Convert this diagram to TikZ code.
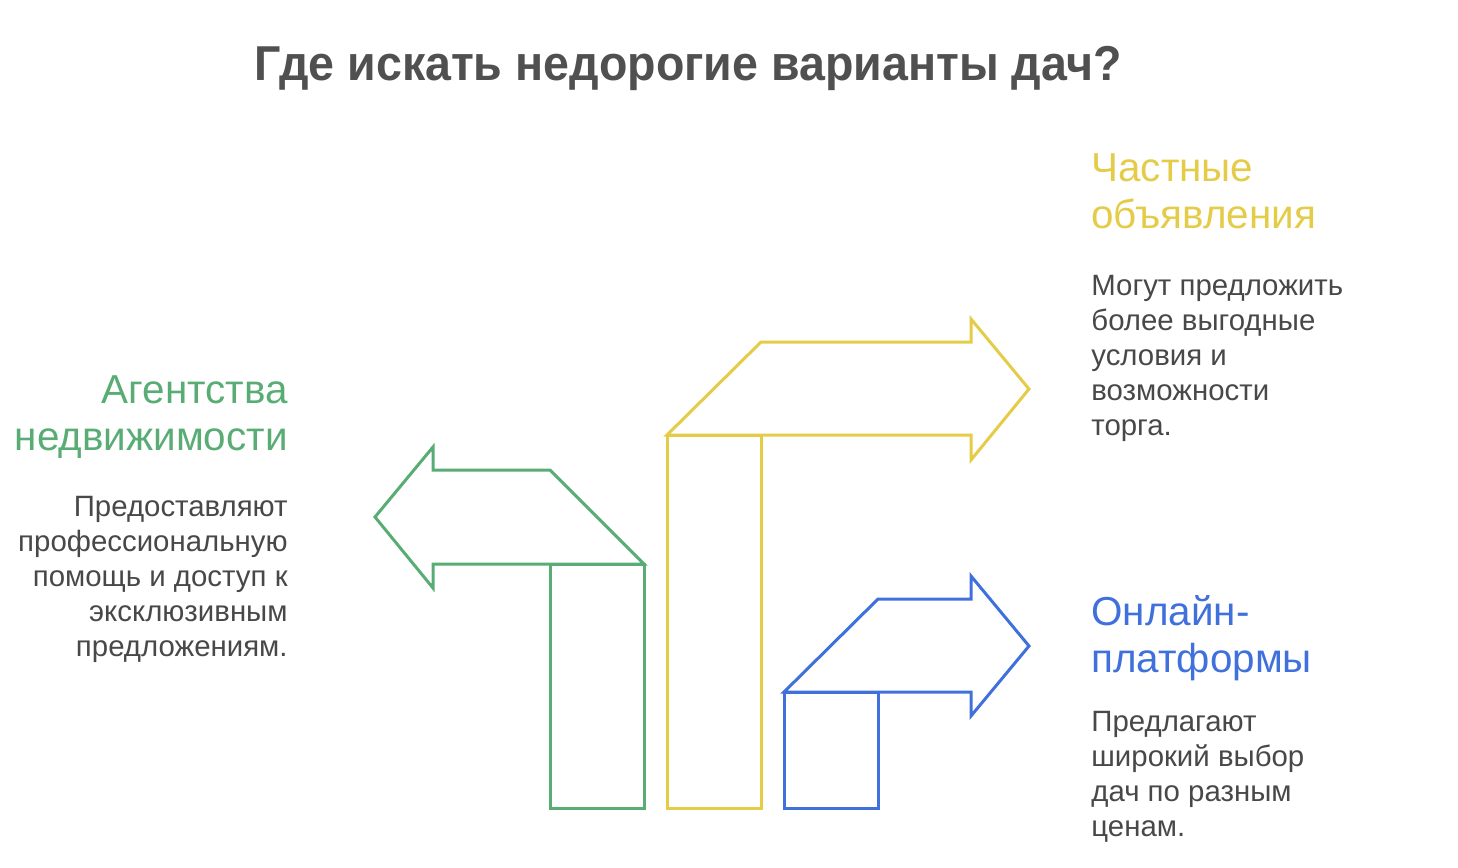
\documentclass[tikz,border=0pt]{standalone}
\usepackage{fontspec}
\setmainfont{Liberation Sans}
\newfontfamily\titlefont[FakeStretch=0.95]{Liberation Sans}
\definecolor{agencygreen}{RGB}{88,172,116}
\definecolor{privateyellow}{RGB}{228,204,72}
\definecolor{onlineblue}{RGB}{64,112,220}
\definecolor{bodygray}{RGB}{72,72,72}
\definecolor{titlegray}{RGB}{80,80,80}
\tikzset{
  outline/.style={line width=1.5pt, line join=miter},
  heading/.style={inner sep=0pt, font=\fontsize{20.2}{23.5}\selectfont},
  bodytext/.style={inner sep=0pt, text=bodygray, font=\fontsize{14.7}{17.5}\selectfont}
}
\begin{document}
\begin{tikzpicture}[x=0.5pt, y=-0.5pt]
    \useasboundingbox (0,0) rectangle (1458,868);

    % Title
    \node[inner sep=0pt, anchor=base, text=titlegray, font=\titlefont\bfseries\fontsize{24.5}{28}\selectfont] (title) at (688,80) {Где искать недорогие варианты дач?};

    % Fleche verte (vers la gauche)
    \coordinate (G1) at (433,470);
    \coordinate (G2) at (550,470);
    \coordinate (G3) at (644,564);
    \coordinate (G4) at (433,564);
    \coordinate (G5) at (433,588);
    \coordinate (G6) at (375,517);
    \coordinate (G7) at (433,447);
    \draw[outline, agencygreen] (G1) -- (G2) -- (G3) -- (G4) -- (G5) -- (G6) -- (G7) -- cycle;
    \draw[outline, agencygreen] (G2 |- G3) rectangle (644,808);

    % Fleche jaune (vers la droite)
    \coordinate (Y1) at (667,435);
    \coordinate (Y2) at (761,342);
    \coordinate (Y3) at (971,342);
    \coordinate (Y4) at (971,319);
    \coordinate (Y5) at (1029,389);
    \coordinate (Y6) at (971,460);
    \coordinate (Y7) at (971,435);
    \draw[outline, privateyellow] (Y1) -- (Y2) -- (Y3) -- (Y4) -- (Y5) -- (Y6) -- (Y7) -- cycle;
    \draw[outline, privateyellow] (Y1) rectangle (761,808);

    % Fleche bleue (vers la droite)
    \coordinate (B1) at (784,692);
    \coordinate (B2) at (878,599);
    \coordinate (B3) at (971,599);
    \coordinate (B4) at (971,576);
    \coordinate (B5) at (1029,646);
    \coordinate (B6) at (971,716);
    \coordinate (B7) at (971,692);
    \draw[outline, onlineblue] (B1) -- (B2) -- (B3) -- (B4) -- (B5) -- (B6) -- (B7) -- cycle;
    \draw[outline, onlineblue] (B1) rectangle (878,808);

    % Textes a gauche
    \node[heading, text=agencygreen, anchor=north east, align=right] (agency) at (288,375) {Агентства\\недвижимости};
    \node[bodytext, anchor=north east, align=right] (agencytext) at (288,496) {Предоставляют\\профессиональную\\помощь и доступ к\\эксклюзивным\\предложениям.};

    % Textes a droite
    \node[heading, text=privateyellow, anchor=north west, align=left] (private) at (1091,153) {Частные\\объявления};
    \node[bodytext, anchor=north west, align=left] (privatetext) at (1091,275) {Могут предложить\\более выгодные\\условия и\\возможности\\торга.};

    \node[heading, text=onlineblue, anchor=north west, align=left] (online) at (1091,595) {Онлайн-\\платформы};
    \node[bodytext, anchor=north west, align=left] (onlinetext) at (1091,711) {Предлагают\\широкий выбор\\дач по разным\\ценам.};
\end{tikzpicture}
\end{document}
